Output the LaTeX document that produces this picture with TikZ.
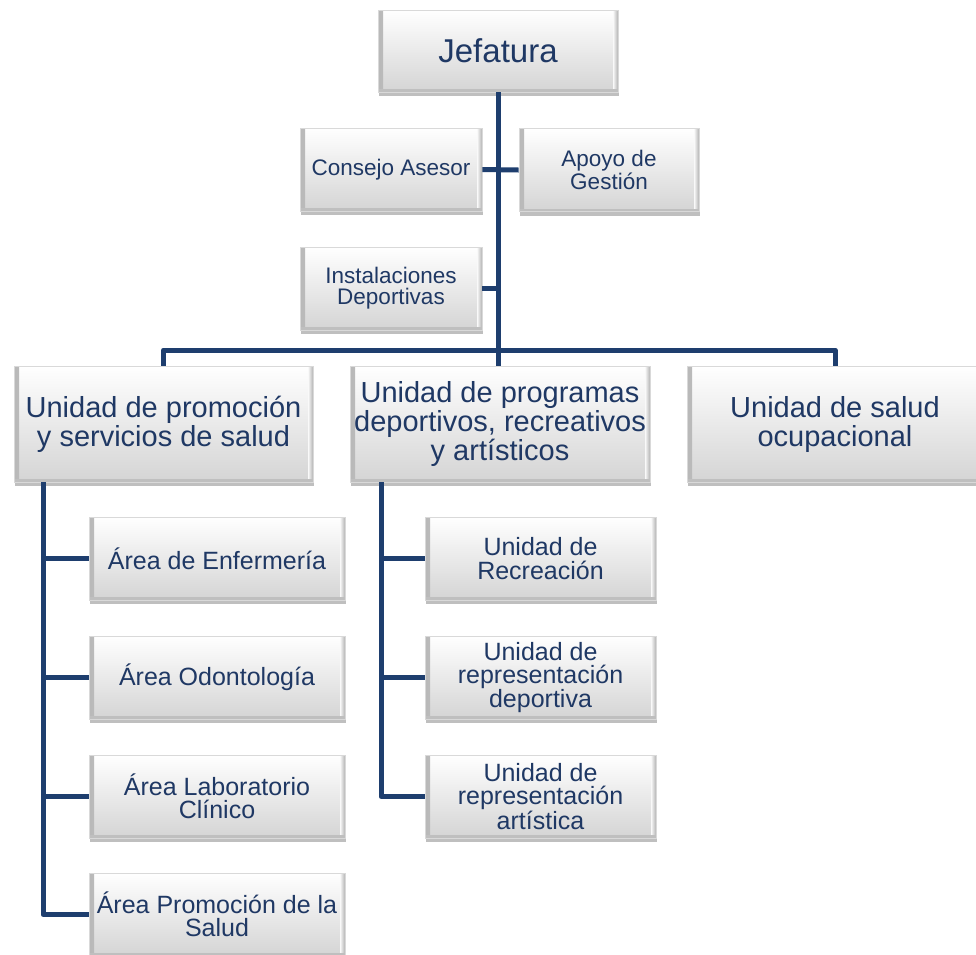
\documentclass[tikz,border=0pt]{standalone}
\usepackage{fontspec}
\setmainfont{Liberation Sans}
\usetikzlibrary{shadows}
\definecolor{txtnavy}{RGB}{31,56,100}
\definecolor{linenavy}{RGB}{30,62,110}
\definecolor{boxgray}{RGB}{212,212,212}
\tikzset{
  orgbox/.style={rectangle, inner sep=2pt, align=center, text=txtnavy,
    top color=white, bottom color=boxgray, draw=gray!30, line width=0.6pt,
    drop shadow={shadow xshift=1pt, shadow yshift=-4pt, opacity=0.25, fill=black},
    path picture={
      \fill[left color=gray!55, right color=gray!5] (path picture bounding box.south west) rectangle ([xshift=5pt]path picture bounding box.north west);
      \fill[left color=gray!5, right color=gray!60] ([xshift=-5pt]path picture bounding box.south east) rectangle (path picture bounding box.north east);
      \fill[gray!50] (path picture bounding box.south west) rectangle ([yshift=3pt]path picture bounding box.south east);
    }},
  topbox/.style={orgbox, minimum width=240pt, minimum height=82pt, font=\fontsize{33}{35}\selectfont},
  smallbox/.style={orgbox, minimum width=182pt, minimum height=83pt, font=\fontsize{22.5}{21}\selectfont},
  bigbox/.style={orgbox, minimum width=300pt, minimum height=116pt, font=\fontsize{29}{29}\selectfont},
  subbox/.style={orgbox, minimum height=83pt, font=\fontsize{25}{23.5}\selectfont},
  conn/.style={draw=linenavy, line width=5pt, line cap=butt, line join=round}
}
\begin{document}
\begin{tikzpicture}[x=1pt,y=-1pt]
\useasboundingbox[fill=white] (0,0) rectangle (976,954);

\coordinate (hb) at (498,350);
\coordinate (lt) at (43,482);
\coordinate (mt) at (381,482);

\node[topbox] (jef) at (498,51) {Jefatura};
\node[smallbox] (con) at (391,169.5) {Consejo Asesor};
\node[smallbox, minimum width=180pt] (apo) at (609,170) {Apoyo de\\Gestión};
\node[smallbox] (ins) at (391,288.5) {Instalaciones\\Deportivas};

\node[bigbox, minimum width=299pt] (u1) at (163.5,424) {Unidad de promoción\\y servicios de salud};
\node[bigbox] (u2) at (500,424) {Unidad de programas\\deportivos, recreativos\\y artísticos};
\node[bigbox, minimum width=296pt] (u3) at (835,424) {Unidad de salud\\ocupacional};

\node[subbox, minimum width=256pt] (a1) at (217,558.5) {Área de Enfermería};
\node[subbox, minimum width=256pt] (a2) at (217,677.5) {Área Odontología};
\node[subbox, minimum width=256pt] (a3) at (217,796.5) {Área Laboratorio\\Clínico};
\node[subbox, minimum width=256pt] (a4) at (217,914.5) {Área Promoción de la\\Salud};

\node[subbox, minimum width=231pt] (b1) at (540.5,558.5) {Unidad de\\Recreación};
\node[subbox, minimum width=231pt] (b2) at (540.5,677.5) {Unidad de\\representación\\deportiva};
\node[subbox, minimum width=231pt] (b3) at (540.5,796.5) {Unidad de\\representación\\artística};

\draw[conn] (jef.south) -- (jef.south |- hb);
\draw[conn] (con.east) -- (apo.west);
\draw[conn] (ins.east) -- (ins.east -| hb);
\draw[conn] (u1.north) -- (u1.north |- hb) -- (u3.north |- hb) -- (u3.north);
\draw[conn] (hb) -- (hb |- u2.north);

\draw[conn] (lt) |- (a4.west);
\draw[conn] (lt |- a1.west) -- (a1.west);
\draw[conn] (lt |- a2.west) -- (a2.west);
\draw[conn] (lt |- a3.west) -- (a3.west);

\draw[conn] (mt) |- (b3.west);
\draw[conn] (mt |- b1.west) -- (b1.west);
\draw[conn] (mt |- b2.west) -- (b2.west);
\end{tikzpicture}
\end{document}
